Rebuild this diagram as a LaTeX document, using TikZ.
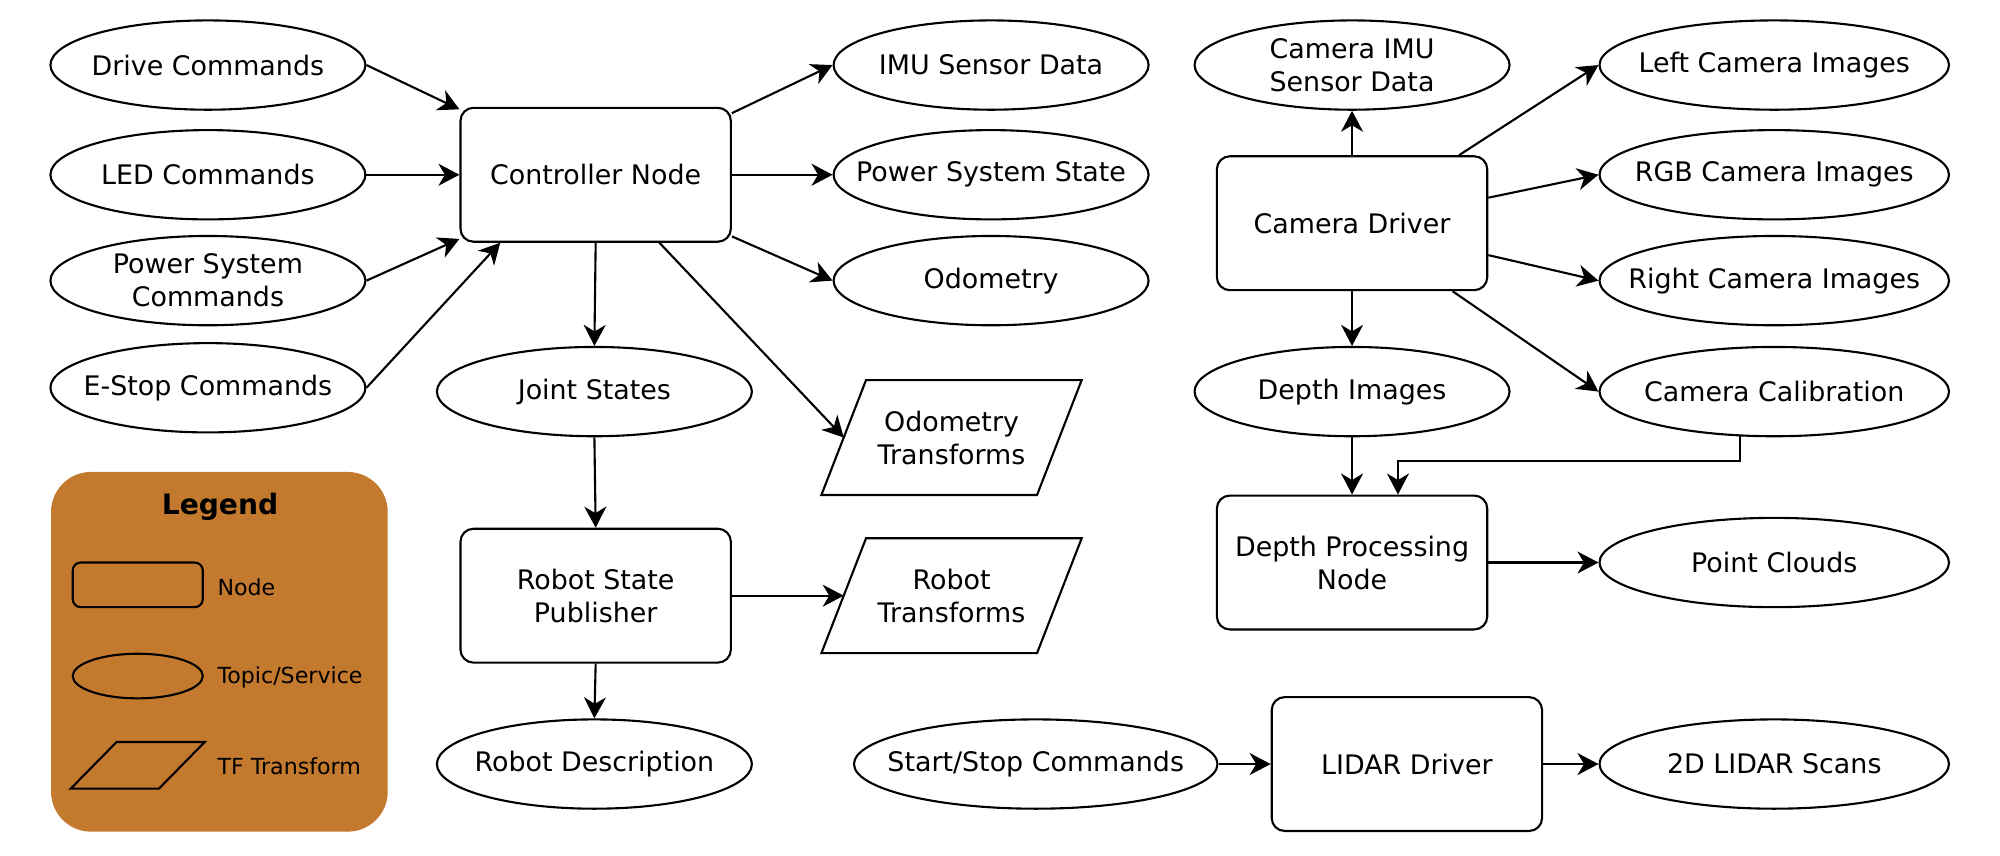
\documentclass[tikz,border=0pt]{standalone}
\usepackage{fontspec}
\setmainfont{DejaVu Sans}
\usetikzlibrary{shapes.geometric,arrows.meta,calc}
\definecolor{legendfill}{RGB}{196,122,46}
\begin{document}
\begin{tikzpicture}[x=0.012755cm,y=-0.012755cm,
  font=\fontsize{7.65}{9.4}\selectfont,
  every node/.style={inner sep=0pt, align=center},
  topic/.style={ellipse, draw, line width=0.6pt, inner xsep=-1.6cm, minimum width=3.15cm, minimum height=0.893cm},
  wtopic/.style={topic, minimum width=3.495cm},
  rosnode/.style={rectangle, draw, line width=0.6pt, rounded corners=0.13cm, minimum width=2.704cm, minimum height=1.339cm},
  tfbox/.style={rectangle, draw=none, minimum width=2.589cm, minimum height=1.135cm},
  shapeline/.style={line width=0.6pt, line join=miter},
  arr/.style={line width=0.6pt, -{Stealth[length=0.21cm, width=0.22cm, inset=0.065cm]}},
  legtext/.style={font=\fontsize{6.3}{7.5}\selectfont, anchor=west}
]
\useasboundingbox (0,0) rectangle (1568,671);

% left inputs
\node[topic] (drive) at (163,51) {Drive Commands};
\node[topic] (led) at (163,137) {LED Commands};
\node[topic] (psc) at (163,220) {Power System\\Commands};
\node[topic] (estop) at (163,304) {E-Stop Commands};

% controller
\node[rosnode] (ctrl) at (467,137) {Controller Node};
\node[topic] (imu) at (777,51) {IMU Sensor Data};
\node[topic] (pss) at (777,137) {Power System State};
\node[topic] (odom) at (777,220) {Odometry};
\node[topic] (joint) at (466,307) {Joint States};
\node[tfbox] (odt) at (746,343) {Odometry\\Transforms};
\draw[shapeline] (odt.south west) -- ($(odt.south east)+(-35,0)$) -- (odt.north east) -- ($(odt.north west)+(35,0)$) -- cycle;
\node[rosnode] (rsp) at (467,467) {Robot State\\Publisher};
\node[tfbox] (rtf) at (746,467) {Robot\\Transforms};
\draw[shapeline] (rtf.south west) -- ($(rtf.south east)+(-35,0)$) -- (rtf.north east) -- ($(rtf.north west)+(35,0)$) -- cycle;
\node[topic] (rdesc) at (466,599) {Robot Description};

% camera
\node[topic] (camimu) at (1060,51) {Camera IMU\\Sensor Data};
\node[rosnode] (camdrv) at (1060,175) {Camera Driver};
\node[wtopic] (left) at (1391,51) {Left Camera Images};
\node[wtopic] (rgb) at (1391,137) {RGB Camera Images};
\node[wtopic] (right) at (1391,220) {Right Camera Images};
\node[wtopic] (calib) at (1391,307) {Camera Calibration};
\node[topic] (depth) at (1060,307) {Depth Images};
\node[rosnode] (dpn) at (1060,441) {Depth Processing\\Node};
\node[wtopic] (pc) at (1391,441) {Point Clouds};

% lidar
\node[topic, minimum width=3.635cm] (ss) at (812,599) {Start/Stop Commands};
\node[rosnode] (lidar) at (1103,599) {LIDAR Driver};
\node[wtopic] (scans) at (1391,599) {2D LIDAR Scans};

% connectors
\draw[arr] (drive.east) -- ($(ctrl.north west)+(0,2)$);
\draw[arr] (led.east) -- (ctrl.west);
\draw[arr] (psc.east) -- ($(ctrl.south west)+(0,-3)$);
\draw[arr] (estop.east) -- ($(ctrl.south west)+(32,0)$);
\draw[arr] ($(ctrl.north east)+(0,5)$) -- (imu.west);
\draw[arr] (ctrl.east) -- (pss.west);
\draw[arr] ($(ctrl.south east)+(0,-5)$) -- (odom.west);
\draw[arr] (ctrl.south) -- (joint.north);
\draw[arr] ($(ctrl.south)+(50,0)$) -- ($(odt.west)+(17.5,0)$);
\draw[arr] (joint.south) -- (rsp.north);
\draw[arr] (rsp.east) -- ($(rtf.west)+(17.5,0)$);
\draw[arr] (rsp.south) -- (rdesc.north);

\draw[arr] (camdrv.north) -- (camimu.south);
\draw[arr] ($(camdrv.north east)+(-23,0)$) -- (left.west);
\draw[arr] ($(camdrv.east)+(0,-20)$) -- (rgb.west);
\draw[arr] ($(camdrv.east)+(0,25)$) -- (right.west);
\draw[arr] ($(camdrv.south east)+(-28,0)$) -- (calib.west);
\draw[arr] (camdrv.south) -- (depth.north);
\draw[arr] (depth.south) -- (dpn.north);
\draw[arr] ($(calib.south)+(-27,-1)$) |- ($(dpn.north)+(36,-26)$) -- ($(dpn.north)+(36,0)$);
\draw[arr] (dpn.east) -- (pc.west);
\draw[arr] (ss.east) -- (lidar.west);
\draw[arr] (lidar.east) -- (scans.west);

% legend
\node[rectangle, fill=legendfill, draw=none, rounded corners=0.4cm, minimum width=3.367cm, minimum height=3.597cm] (legend) at (172,511) {};
\node[font=\fontsize{8}{9.6}\selectfont\bfseries] (legtitle) at (172.5,397) {Legend};
\node[rectangle, draw, line width=0.6pt, rounded corners=0.08cm, minimum width=1.301cm, minimum height=0.446cm] (legnode) at (108,458.5) {};
\node[legtext] (legnodet) at (170,460) {Node};
\node[ellipse, draw, line width=0.6pt, minimum width=1.301cm, minimum height=0.446cm] (legtopic) at (108,530) {};
\node[legtext] (legtopict) at (170,531) {Topic/Service};
\node[rectangle, draw=none, minimum width=1.327cm, minimum height=0.453cm] (legtf) at (108,600) {};
\draw[shapeline] (legtf.south west) -- ($(legtf.south east)+(-36,0)$) -- (legtf.north east) -- ($(legtf.north west)+(36,0)$) -- cycle;
\node[legtext] (legtft) at (170,601) {TF Transform};
\end{tikzpicture}
\end{document}
